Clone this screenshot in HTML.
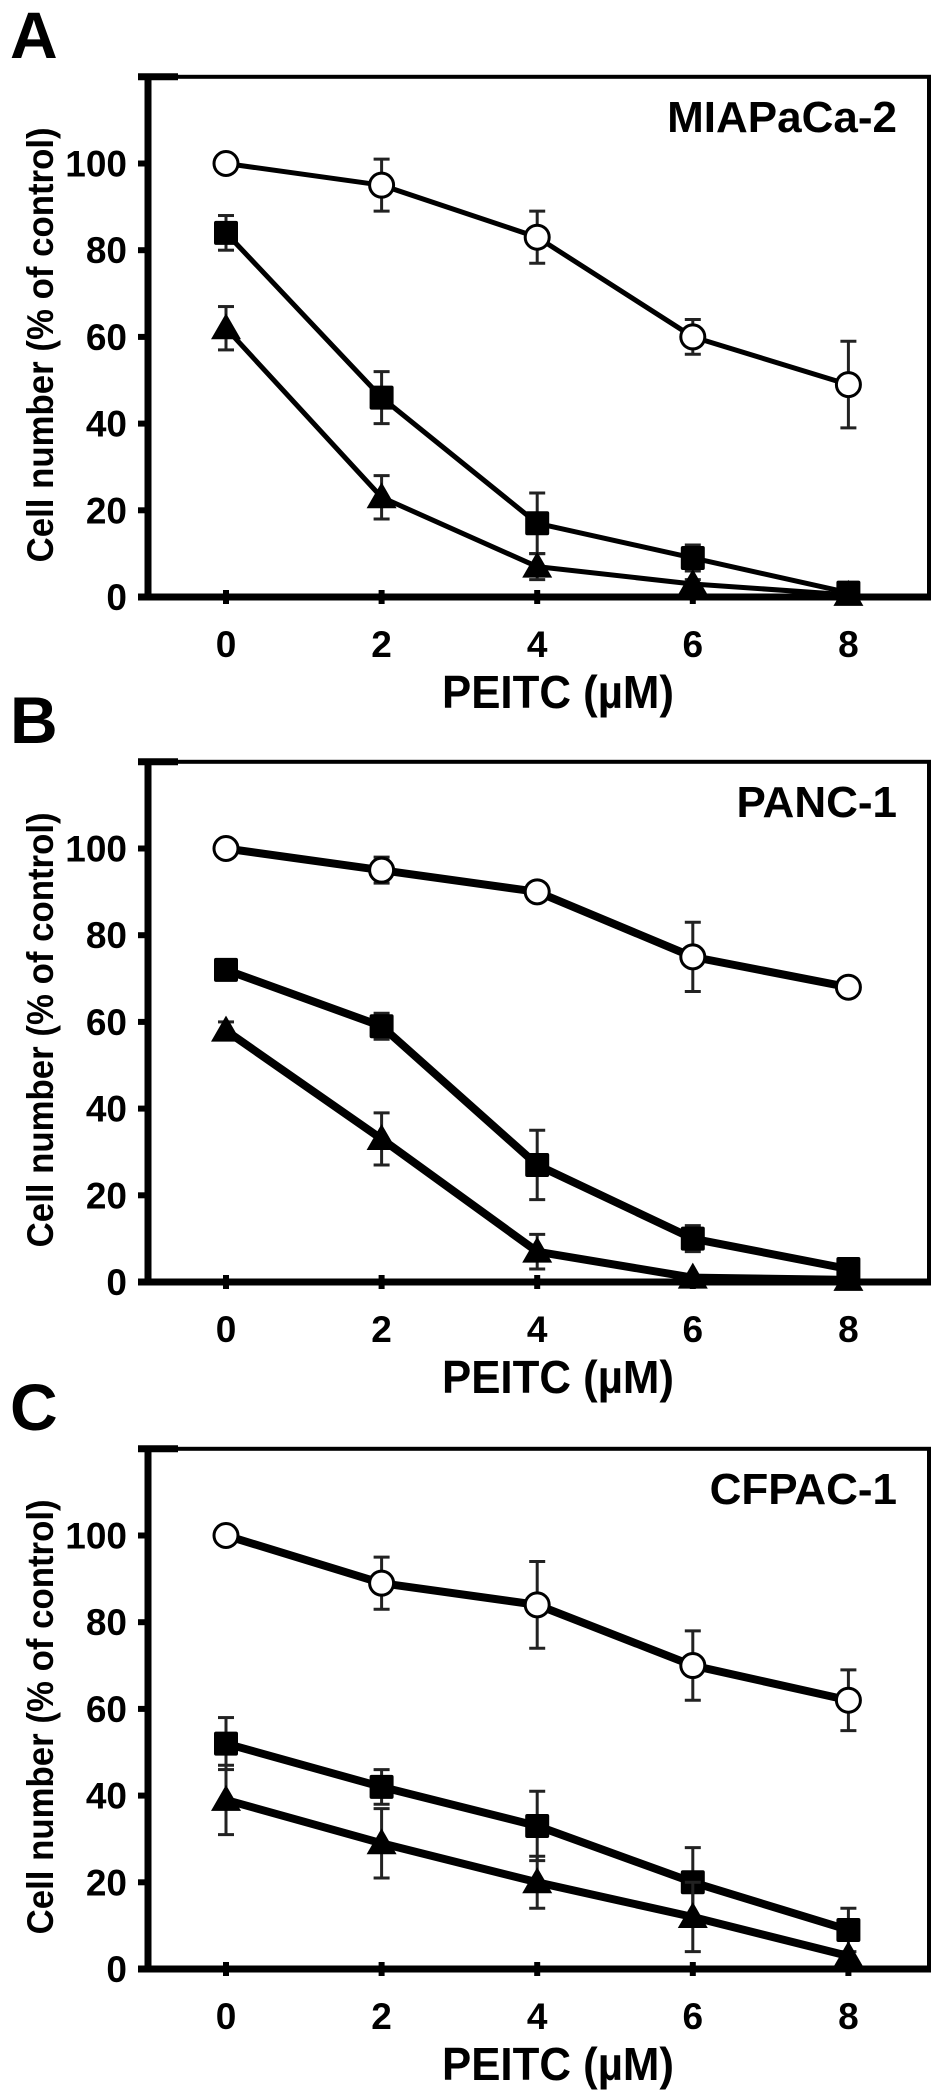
<!DOCTYPE html>
<html><head><meta charset="utf-8"><style>
html,body{margin:0;padding:0;background:#fff;}
svg{display:block;}
text{font-family:"Liberation Sans",Arial,sans-serif;font-weight:bold;fill:#000;}
</style></head><body>
<svg id="fig" width="945" height="2094" viewBox="0 0 945 2094" xmlns="http://www.w3.org/2000/svg"></svg>
<script>
const doses = [0, 2, 4, 6, 8];
const xTicks = [0, 2, 4, 6, 8];
const yTicks = [0, 20, 40, 60, 80, 100];
const panelLetters = ['A', 'B', 'C'];
const cellLines = ['MIAPaCa-2', 'PANC-1', 'CFPAC-1'];
// Panel A
const aCircle = [100, 95, 83, 60, 49];
const aCircleErr = [0, 6, 6, 4, 10];
const aSquare = [84, 46, 17, 9, 1];
const aSquareErr = [4, 6, 7, 3, 0];
const aTri = [62, 23, 7, 3, 0.5];
const aTriErr = [5, 5, 3, 1, 0];
// Panel B
const bCircle = [100, 95, 90, 75, 68];
const bCircleErr = [0, 3, 1, 8, 0];
const bSquare = [72, 59, 27, 10, 3];
const bSquareErr = [0, 3, 8, 3, 0];
const bTri = [58, 33, 7, 1, 0.5];
const bTriErr = [2, 6, 4, 0, 0];
// Panel C
const cCircle = [100, 89, 84, 70, 62];
const cCircleErr = [0, 6, 10, 8, 7];
const cSquare = [52, 42, 33, 20, 9];
const cSquareErr = [6, 4, 8, 8, 5];
const cTri = [39, 29, 20, 12, 3];
const cTriErr = [8, 8, 6, 8, 0];

const panels = [
  {off:0, lw:5, series:[[aCircle,aCircleErr],[aSquare,aSquareErr],[aTri,aTriErr]]},
  {off:685, lw:8, series:[[bCircle,bCircleErr],[bSquare,bSquareErr],[bTri,bTriErr]]},
  {off:1372, lw:8, series:[[cCircle,cCircleErr],[cSquare,cSquareErr],[cTri,cTriErr]]}
];
const kinds = ['circle','square','triangle'];
const svg = document.getElementById('fig');
const NS = 'http://www.w3.org/2000/svg';
function mk(tag, attrs, parent){
  const e = document.createElementNS(NS, tag);
  for (const k in attrs) e.setAttribute(k, attrs[k]);
  (parent||svg).appendChild(e);
  return e;
}
const X0 = 226, XS = 77.8, LEFT = 148, RIGHT = 929, YS = 4.335;

panels.forEach((p, pi) => {
  const y0 = 597 + p.off;
  const xPos = v => X0 + v * XS;
  const yPos = v => y0 - v * YS;
  const g = mk('g', {});
  
  
  const top = yPos(120);
  const L = mk('text', {x:10, y:58 + p.off, 'font-size':66}, g);
  L.textContent = panelLetters[pi];
  
  
  const fr = mk('rect', {x:LEFT, y:top, width:RIGHT-LEFT, height:y0-top, fill:'none', stroke:'#000', 'stroke-width':4}, g);
  
  
  mk('line', {x1:LEFT, y1:top-2, x2:LEFT, y2:y0+3, stroke:'#000', 'stroke-width':7}, g);
  mk('line', {x1:LEFT-10, y1:y0, x2:RIGHT+2, y2:y0, stroke:'#000', 'stroke-width':7}, g);
  mk('line', {x1:LEFT-10, y1:top, x2:LEFT+30, y2:top, stroke:'#000', 'stroke-width':7}, g);
  yTicks.forEach(t => {
    mk('line', {x1:LEFT-10, y1:yPos(t), x2:LEFT, y2:yPos(t), stroke:'#000', 'stroke-width':6}, g);
    const tx = mk('text', {x:127, y:yPos(t)+13, 'font-size':37, 'text-anchor':'end'}, g);
    tx.textContent = t;
    
    
  });
  xTicks.forEach(t => {
    mk('line', {x1:xPos(t), y1:y0-7, x2:xPos(t), y2:y0+7, stroke:'#000', 'stroke-width':6}, g);
    const tx = mk('text', {x:xPos(t), y:y0+60, 'font-size':37, 'text-anchor':'middle'}, g);
    tx.textContent = t;
    
    
  });
  const xt = mk('text', {x:558, y:y0+111, 'font-size':46, 'text-anchor':'middle', textLength:232, lengthAdjust:'spacingAndGlyphs'}, g);
  xt.textContent = 'PEITC (\u00b5M)';
  
  
  const ycy = (top + y0) / 2 + 8;
  const yt = mk('text', {x:0, y:0, 'font-size':37, 'text-anchor':'middle', textLength:435, lengthAdjust:'spacingAndGlyphs', transform:`translate(53,${ycy}) rotate(-90)`}, g);
  yt.textContent = 'Cell number (% of control)';
  
  
  const nm = mk('text', {x:897, y:132 + p.off, 'font-size':44, 'text-anchor':'end'}, g);
  nm.textContent = cellLines[pi];
  
  
  p.series.forEach((s, si) => {
    const vals = s[0], errs = s[1];
    const sg = mk('g', {}, g);
    
    
    const pts = vals.map((v, i) => xPos(doses[i]) + ',' + yPos(v)).join(' ');
    const pl = mk('polyline', {points:pts, fill:'none', stroke:'#000', 'stroke-width':p.lw, 'stroke-linejoin':'round'}, sg);
    
    
    vals.forEach((v, i) => {
      const x = xPos(doses[i]), y = yPos(v), e = errs[i];
      if (e > 0) {
        const eb = mk('g', {stroke:'#222', 'stroke-width':3}, sg);
        
        
        mk('line', {x1:x, y1:yPos(v+e), x2:x, y2:yPos(v-e)}, eb);
        mk('line', {x1:x-8, y1:yPos(v+e), x2:x+8, y2:yPos(v+e)}, eb);
        mk('line', {x1:x-8, y1:yPos(v-e), x2:x+8, y2:yPos(v-e)}, eb);
      }
      let m;
      if (si === 0) m = mk('circle', {cx:x, cy:y, r:12, fill:'#fff', stroke:'#000', 'stroke-width':3}, sg);
      else if (si === 1) m = mk('rect', {x:x-12, y:y-12, width:24, height:24, rx:2, fill:'#000'}, sg);
      else m = mk('polygon', {points:`${x-15},${y+11} ${x+15},${y+11} ${x},${y-15}`, fill:'#000'}, sg);
      
      
    });
  });
});
</script>
</body></html>
